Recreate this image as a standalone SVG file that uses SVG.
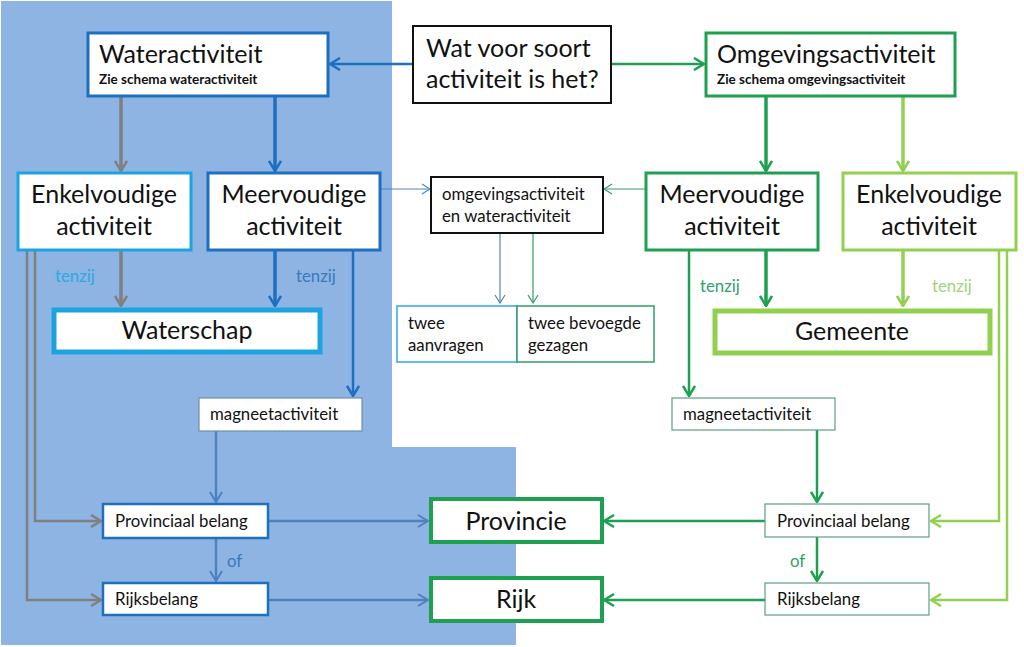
<svg xmlns="http://www.w3.org/2000/svg" width="1024" height="647" viewBox="0 0 1024 647">
<style>
text{font-family:Lato,"Liberation Sans",sans-serif;fill:#111}
.big{font-size:25px}
.mid{font-size:16.8px}
.sub{font-size:13.5px;font-weight:bold}
.c{text-anchor:middle}
.box{fill:#fff}
.ln{fill:none}
</style>
<defs>
<marker id="aBlue" markerUnits="userSpaceOnUse" viewBox="0 0 12 14" markerWidth="12" markerHeight="14" refX="11" refY="7" orient="auto"><path d="M1,1 L11,7 L1,13" fill="none" stroke="#1f6fc0" stroke-width="2.5"/></marker>
<marker id="aGreen" markerUnits="userSpaceOnUse" viewBox="0 0 12 14" markerWidth="12" markerHeight="14" refX="11" refY="7" orient="auto"><path d="M1,1 L11,7 L1,13" fill="none" stroke="#1fa050" stroke-width="2.5"/></marker>
<marker id="aLGreen" markerUnits="userSpaceOnUse" viewBox="0 0 12 14" markerWidth="12" markerHeight="14" refX="11" refY="7" orient="auto"><path d="M1,1 L11,7 L1,13" fill="none" stroke="#92d050" stroke-width="2.5"/></marker>
<marker id="aGray" markerUnits="userSpaceOnUse" viewBox="0 0 12 14" markerWidth="12" markerHeight="14" refX="11" refY="7" orient="auto"><path d="M1,1 L11,7 L1,13" fill="none" stroke="#808080" stroke-width="2.5"/></marker>
<marker id="aSteel" markerUnits="userSpaceOnUse" viewBox="0 0 12 14" markerWidth="12" markerHeight="14" refX="11" refY="7" orient="auto"><path d="M1,1 L11,7 L1,13" fill="none" stroke="#4f81bd" stroke-width="2"/></marker>
<marker id="aThinB" markerUnits="userSpaceOnUse" viewBox="0 0 10 12" markerWidth="10" markerHeight="12" refX="9" refY="6" orient="auto"><path d="M1,1 L9,6 L1,11" fill="none" stroke="#4f86c0" stroke-width="1.2"/></marker>
<marker id="aThinG" markerUnits="userSpaceOnUse" viewBox="0 0 10 12" markerWidth="10" markerHeight="12" refX="9" refY="6" orient="auto"><path d="M1,1 L9,6 L1,11" fill="none" stroke="#3a9a6a" stroke-width="1.2"/></marker>
</defs>
<rect width="1024" height="647" fill="#fff"/>
<path d="M1,1 H392 V447 H516 V645 H1 Z" fill="#8db4e2"/>

<g id="connectors" class="ln">
<line x1="413" y1="64" x2="330" y2="64" stroke="#1f6fc0" stroke-width="2.5" marker-end="url(#aBlue)"/>
<line x1="611" y1="64" x2="704" y2="64" stroke="#1fa050" stroke-width="2.5" marker-end="url(#aGreen)"/>
<line x1="121" y1="96" x2="121" y2="171" stroke="#808080" stroke-width="3.5" marker-end="url(#aGray)"/>
<line x1="275" y1="96" x2="275" y2="171" stroke="#1f6fc0" stroke-width="3.5" marker-end="url(#aBlue)"/>
<line x1="766" y1="96" x2="766" y2="171" stroke="#1fa050" stroke-width="3.5" marker-end="url(#aGreen)"/>
<line x1="903" y1="96" x2="903" y2="171" stroke="#92d050" stroke-width="3.5" marker-end="url(#aLGreen)"/>
<line x1="381" y1="189" x2="430" y2="189" stroke="#4f86c0" stroke-width="1.2" marker-end="url(#aThinB)"/>
<line x1="646" y1="189" x2="604" y2="189" stroke="#3a9a6a" stroke-width="1.2" marker-end="url(#aThinG)"/>
<line x1="500" y1="233" x2="500" y2="303" stroke="#4f86c0" stroke-width="1.2" marker-end="url(#aThinB)"/>
<line x1="533" y1="233" x2="533" y2="303" stroke="#3a9a6a" stroke-width="1.2" marker-end="url(#aThinG)"/>
<line x1="121" y1="250" x2="121" y2="306" stroke="#808080" stroke-width="3.5" marker-end="url(#aGray)"/>
<line x1="275" y1="250" x2="275" y2="306" stroke="#1f6fc0" stroke-width="3.5" marker-end="url(#aBlue)"/>
<line x1="353" y1="250" x2="353" y2="396" stroke="#1f6fc0" stroke-width="2.5" marker-end="url(#aBlue)"/>
<polyline points="35,250 35,521 101,521" stroke="#808080" stroke-width="2.5" marker-end="url(#aGray)"/>
<polyline points="27,250 27,600 101,600" stroke="#808080" stroke-width="2.5" marker-end="url(#aGray)"/>
<line x1="216" y1="431" x2="216" y2="502" stroke="#4f81bd" stroke-width="2.5" marker-end="url(#aSteel)"/>
<line x1="216" y1="538" x2="216" y2="581" stroke="#4f81bd" stroke-width="2.5" marker-end="url(#aSteel)"/>
<line x1="268" y1="521" x2="428" y2="521" stroke="#4f81bd" stroke-width="2.5" marker-end="url(#aSteel)"/>
<line x1="268" y1="600" x2="428" y2="600" stroke="#4f81bd" stroke-width="2.5" marker-end="url(#aSteel)"/>
<line x1="766" y1="250" x2="766" y2="306" stroke="#1fa050" stroke-width="3.5" marker-end="url(#aGreen)"/>
<line x1="903" y1="250" x2="903" y2="306" stroke="#92d050" stroke-width="3.5" marker-end="url(#aLGreen)"/>
<line x1="689" y1="250" x2="689" y2="396" stroke="#1fa050" stroke-width="2.5" marker-end="url(#aGreen)"/>
<line x1="817" y1="430" x2="817" y2="502" stroke="#1fa050" stroke-width="2.5" marker-end="url(#aGreen)"/>
<line x1="817" y1="537" x2="817" y2="581" stroke="#1fa050" stroke-width="2.5" marker-end="url(#aGreen)"/>
<line x1="765" y1="521" x2="604" y2="521" stroke="#1fa050" stroke-width="2.5" marker-end="url(#aGreen)"/>
<line x1="765" y1="600" x2="604" y2="600" stroke="#1fa050" stroke-width="2.5" marker-end="url(#aGreen)"/>
<polyline points="999,250 999,521 931,521" stroke="#92d050" stroke-width="2.5" marker-end="url(#aLGreen)"/>
<polyline points="1007,250 1007,600 931,600" stroke="#92d050" stroke-width="2.5" marker-end="url(#aLGreen)"/>
</g>

<g id="labels" class="mid">
<text x="55" y="282" style="fill:#30a8e0">tenzij</text>
<text x="296" y="282" style="fill:#3b78bd">tenzij</text>
<text x="700" y="292" style="fill:#2f9f6a">tenzij</text>
<text x="932" y="292" style="fill:#9fd47a">tenzij</text>
<text x="227" y="567" style="fill:#3b78bd">of</text>
<text x="790" y="567" style="fill:#2f9f6a">of</text>
</g>

<g id="wat">
<rect class="box" x="413" y="26" width="198" height="77" stroke="#111" stroke-width="2"/>
<text class="big" x="426" y="57">Wat voor soort</text>
<text class="big" x="426" y="88">activiteit is het?</text>
</g>
<g id="wateractiviteit">
<rect class="box" x="88" y="33" width="240" height="63" stroke="#1f6fc0" stroke-width="3"/>
<text class="big" x="99" y="63">Wateractiviteit</text>
<text class="sub" x="99" y="84">Zie schema wateractiviteit</text>
</g>
<g id="omgevingsactiviteit">
<rect class="box" x="706" y="33" width="249" height="63" stroke="#1fa050" stroke-width="3"/>
<text class="big" x="717" y="63">Omgevingsactiviteit</text>
<text class="sub" x="717" y="84">Zie schema omgevingsactiviteit</text>
</g>
<g id="enkel-water">
<rect class="box" x="18" y="173" width="173" height="77" stroke="#1ca3e0" stroke-width="3"/>
<text class="big c" x="104" y="203">Enkelvoudige</text>
<text class="big c" x="104" y="235">activiteit</text>
</g>
<g id="meer-water">
<rect class="box" x="208" y="173" width="172" height="77" stroke="#1f6fc0" stroke-width="3"/>
<text class="big c" x="294" y="203">Meervoudige</text>
<text class="big c" x="294" y="235">activiteit</text>
</g>
<g id="meer-omg">
<rect class="box" x="646" y="173" width="172" height="77" stroke="#1fa050" stroke-width="3"/>
<text class="big c" x="732" y="203">Meervoudige</text>
<text class="big c" x="732" y="235">activiteit</text>
</g>
<g id="enkel-omg">
<rect class="box" x="843" y="173" width="173" height="77" stroke="#92d050" stroke-width="3"/>
<text class="big c" x="929" y="203">Enkelvoudige</text>
<text class="big c" x="929" y="235">activiteit</text>
</g>
<g id="beide">
<rect class="box" x="431" y="177" width="172" height="56" stroke="#111" stroke-width="2"/>
<text class="mid" x="442" y="200">omgevingsactiviteit</text>
<text class="mid" x="442" y="222">en wateractiviteit</text>
</g>
<g id="twee-aanvragen">
<rect class="box" x="397" y="306" width="120" height="56" stroke="#30a8e0" stroke-width="1.5"/>
<text class="mid" x="408" y="329">twee</text>
<text class="mid" x="408" y="351">aanvragen</text>
</g>
<g id="twee-gezagen">
<rect class="box" x="517" y="306" width="137" height="56" stroke="#2f9f6a" stroke-width="1.5"/>
<text class="mid" x="528" y="329">twee bevoegde</text>
<text class="mid" x="528" y="351">gezagen</text>
</g>
<g id="waterschap">
<rect class="box" x="54" y="310" width="266" height="42" stroke="#1ca3e0" stroke-width="5"/>
<text class="big c" x="187" y="339">Waterschap</text>
</g>
<g id="gemeente">
<rect class="box" x="715" y="311" width="275" height="42" stroke="#92d050" stroke-width="5"/>
<text class="big c" x="852" y="340">Gemeente</text>
</g>
<g id="magneet-water">
<rect class="box" x="199" y="398" width="163" height="33" stroke="#6f8fae" stroke-width="1.2"/>
<text class="mid" x="210" y="420">magneetactiviteit</text>
</g>
<g id="magneet-omg">
<rect class="box" x="672" y="398" width="163" height="32" stroke="#5a9f80" stroke-width="1.2"/>
<text class="mid" x="683" y="420">magneetactiviteit</text>
</g>
<g id="prov-water">
<rect class="box" x="103" y="504" width="165" height="34" stroke="#1f6fc0" stroke-width="2.5"/>
<text class="mid" x="115" y="527">Provinciaal belang</text>
</g>
<g id="rijks-water">
<rect class="box" x="103" y="583" width="165" height="32" stroke="#1f6fc0" stroke-width="2.5"/>
<text class="mid" x="115" y="605">Rijksbelang</text>
</g>
<g id="prov-omg">
<rect class="box" x="765" y="504" width="164" height="33" stroke="#5a9f80" stroke-width="1.2"/>
<text class="mid" x="777" y="527">Provinciaal belang</text>
</g>
<g id="rijks-omg">
<rect class="box" x="765" y="583" width="164" height="32" stroke="#5a9f80" stroke-width="1.2"/>
<text class="mid" x="777" y="605">Rijksbelang</text>
</g>
<g id="provincie">
<rect class="box" x="431" y="499" width="171" height="43" stroke="#1fa050" stroke-width="4"/>
<text class="big c" x="516" y="530">Provincie</text>
</g>
<g id="rijk">
<rect class="box" x="431" y="578" width="171" height="43" stroke="#1fa050" stroke-width="4"/>
<text class="big c" x="516" y="608">Rijk</text>
</g>
</svg>
